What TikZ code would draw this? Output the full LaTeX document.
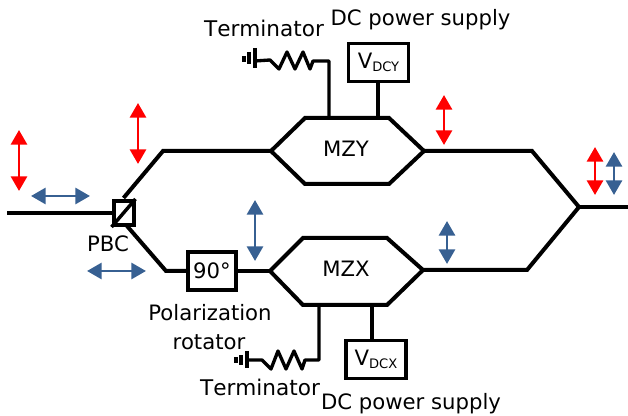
\documentclass[tikz,border=0pt]{standalone}
\usepackage{fontspec}
\setmainfont{DejaVu Sans}
\usetikzlibrary{arrows.meta}
\definecolor{polblue}{RGB}{55,96,146}
\newcommand{\vdc}[1]{V\raisebox{-2.2pt}{\fontsize{9.8}{12}\selectfont #1}}
\tikzset{fibre/.style={line width=3pt},
         wire/.style={line width=2.5pt,line join=round},
         box/.style={draw,inner sep=0pt,font=\fontsize{15.9}{19}\selectfont},
         label/.style={inner sep=0pt,anchor=base,font=\fontsize{15.9}{19}\selectfont},
         termlabel/.style={label,font=\fontsize{16.2}{19}\selectfont\addfontfeature{Kerning=Off}},
         redpol/.style={red,line width=2.2pt,{Triangle[length=11pt,width=12pt]}-{Triangle[length=11pt,width=12pt]}},
         bluepol/.style={polblue,line width=2.2pt,{Triangle[length=11pt,width=12pt]}-{Triangle[length=11pt,width=12pt]}},
         }
\begin{document}
\begin{tikzpicture}[x=0.75pt,y=-0.75pt]
\useasboundingbox (0,0) rectangle (628,416);
% splitter and rotator
\node[box,line width=3pt,minimum width=15pt,minimum height=18pt] (pbc) at (123.5,213) {};
\node[box,line width=3pt,minimum width=35.5pt,minimum height=29pt,text depth=0pt] (rot) at (212,271) {90°};
\coordinate (in) at (7,213);
\coordinate (upbend) at (163,151);
\coordinate (lowbend) at (166,271);
\coordinate (join) at (579,207);
\coordinate (out) at (628,207);
\coordinate (upjoin) at (532,151);
\coordinate (lowjoin) at (527,270);
\draw[fibre] (in) -- (pbc);
\draw[fibre,line width=2.6pt] (pbc.south west) -- (pbc.north east);
\draw[fibre] (pbc.north) ++(0,-1) -- (upbend) -- (271,151) coordinate (mzyl);
\draw[fibre] (127,226) coordinate (pbcout) -- (lowbend) -- (rot);
% MZY
\coordinate (mzytl) at (305,118);
\coordinate (mzytr) at (389,118);
\coordinate (mzyr) at (424,151);
\coordinate (mzybr) at (389,184);
\coordinate (mzybl) at (305,184);
\draw[fibre] (mzyl) -- (mzytl) -- (mzytr) -- (mzyr) -- (mzybr) -- (mzybl) -- cycle;
\node[label] (mzy) at (346,157) {MZY};
% MZX
\coordinate (mzxl) at (270,271);
\coordinate (mzxtl) at (303,238);
\coordinate (mzxtr) at (387,238);
\coordinate (mzxr) at (423,270);
\coordinate (mzxbr) at (387,305);
\coordinate (mzxbl) at (303,305);
\draw[fibre] (mzxl) -- (mzxtl) -- (mzxtr) -- (mzxr) -- (mzxbr) -- (mzxbl) -- cycle;
\node[label] (mzx) at (346,277) {MZX};
\draw[fibre] (rot) -- (mzxl);
% output
\draw[fibre] (mzyr) -- (upjoin) -- (join) -- (lowjoin) -- (mzxr);
\draw[fibre] (join) -- (out);
% supplies
\node[box,line width=2.4pt,minimum width=45pt,minimum height=28pt] (vdcy) at (378.5,62.5) {\vdc{DCY}};
\node[box,line width=2.4pt,minimum width=45pt,minimum height=28pt] (vdcx) at (376,359.5) {\vdc{DCX}};
\coordinate (ytap) at (378,118);
\coordinate (xtap) at (372,305);
\draw[wire] (ytap) -- (vdcy.south -| ytap);
\draw[wire] (xtap) -- (vdcx.north -| xtap);
% terminators
\coordinate (ygnd) at (255,61);
\coordinate (yres) at (270,60);
\coordinate (yterm) at (329,118);
\draw[wire] (ygnd) -- (yres) -- (279,69) -- (287,52) -- (295,69) -- (303,52) -- (310,69) -- (313,61) -- (329,61) -- (yterm);
\draw[wire] (255,48) -- (255,68);
\draw[wire] (249,52) -- (249,64);
\draw[wire] (244,56) -- (244,62);
\coordinate (xgnd) at (247,360);
\coordinate (xres) at (262,360);
\coordinate (xterm) at (319,305);
\draw[wire] (xgnd) -- (xres) -- (271,369) -- (278,351) -- (286,369) -- (294,351) -- (302,369) -- (305,360) -- (319,360) -- (xterm);
\draw[wire] (247,351) -- (247,368);
\draw[wire] (241,355) -- (241,365);
\draw[wire] (236,357) -- (236,363);
% labels
\node[termlabel] (termy) at (264,37) {Terminator};
\node[label] (dcy) at (420.5,26) {DC power supply};
\node[termlabel] (termx) at (260,396) {Terminator};
\node[label] (dcx) at (411,409) {DC power supply};
\node[label] (pbclab) at (108,252) {PBC};
\node[label] (pollab) at (210,321) {Polarization};
\node[label] (rotlab) at (209,350) {rotator};
% polarization states
\draw[redpol] (19,130) coordinate (ra) -- (19,191) coordinate (rb);
\draw[redpol] (138,103) coordinate (rc) -- (138,164) coordinate (rd);
\draw[redpol] (444,95) coordinate (re) -- (444,145) coordinate (rf);
\draw[redpol] (595,147) coordinate (rg) -- (595,195) coordinate (rh);
\draw[bluepol] (31,196) coordinate (ba) -- (90,196) coordinate (bb);
\draw[bluepol] (87,271) coordinate (bc) -- (146,271) coordinate (bd);
\draw[bluepol] (255,200) coordinate (be) -- (255,261) coordinate (bf);
\draw[bluepol] (447,221) coordinate (bg) -- (447,264) coordinate (bh);
\draw[bluepol] (614,152) coordinate (bi) -- (614,195) coordinate (bj);
\end{tikzpicture}
\end{document}
